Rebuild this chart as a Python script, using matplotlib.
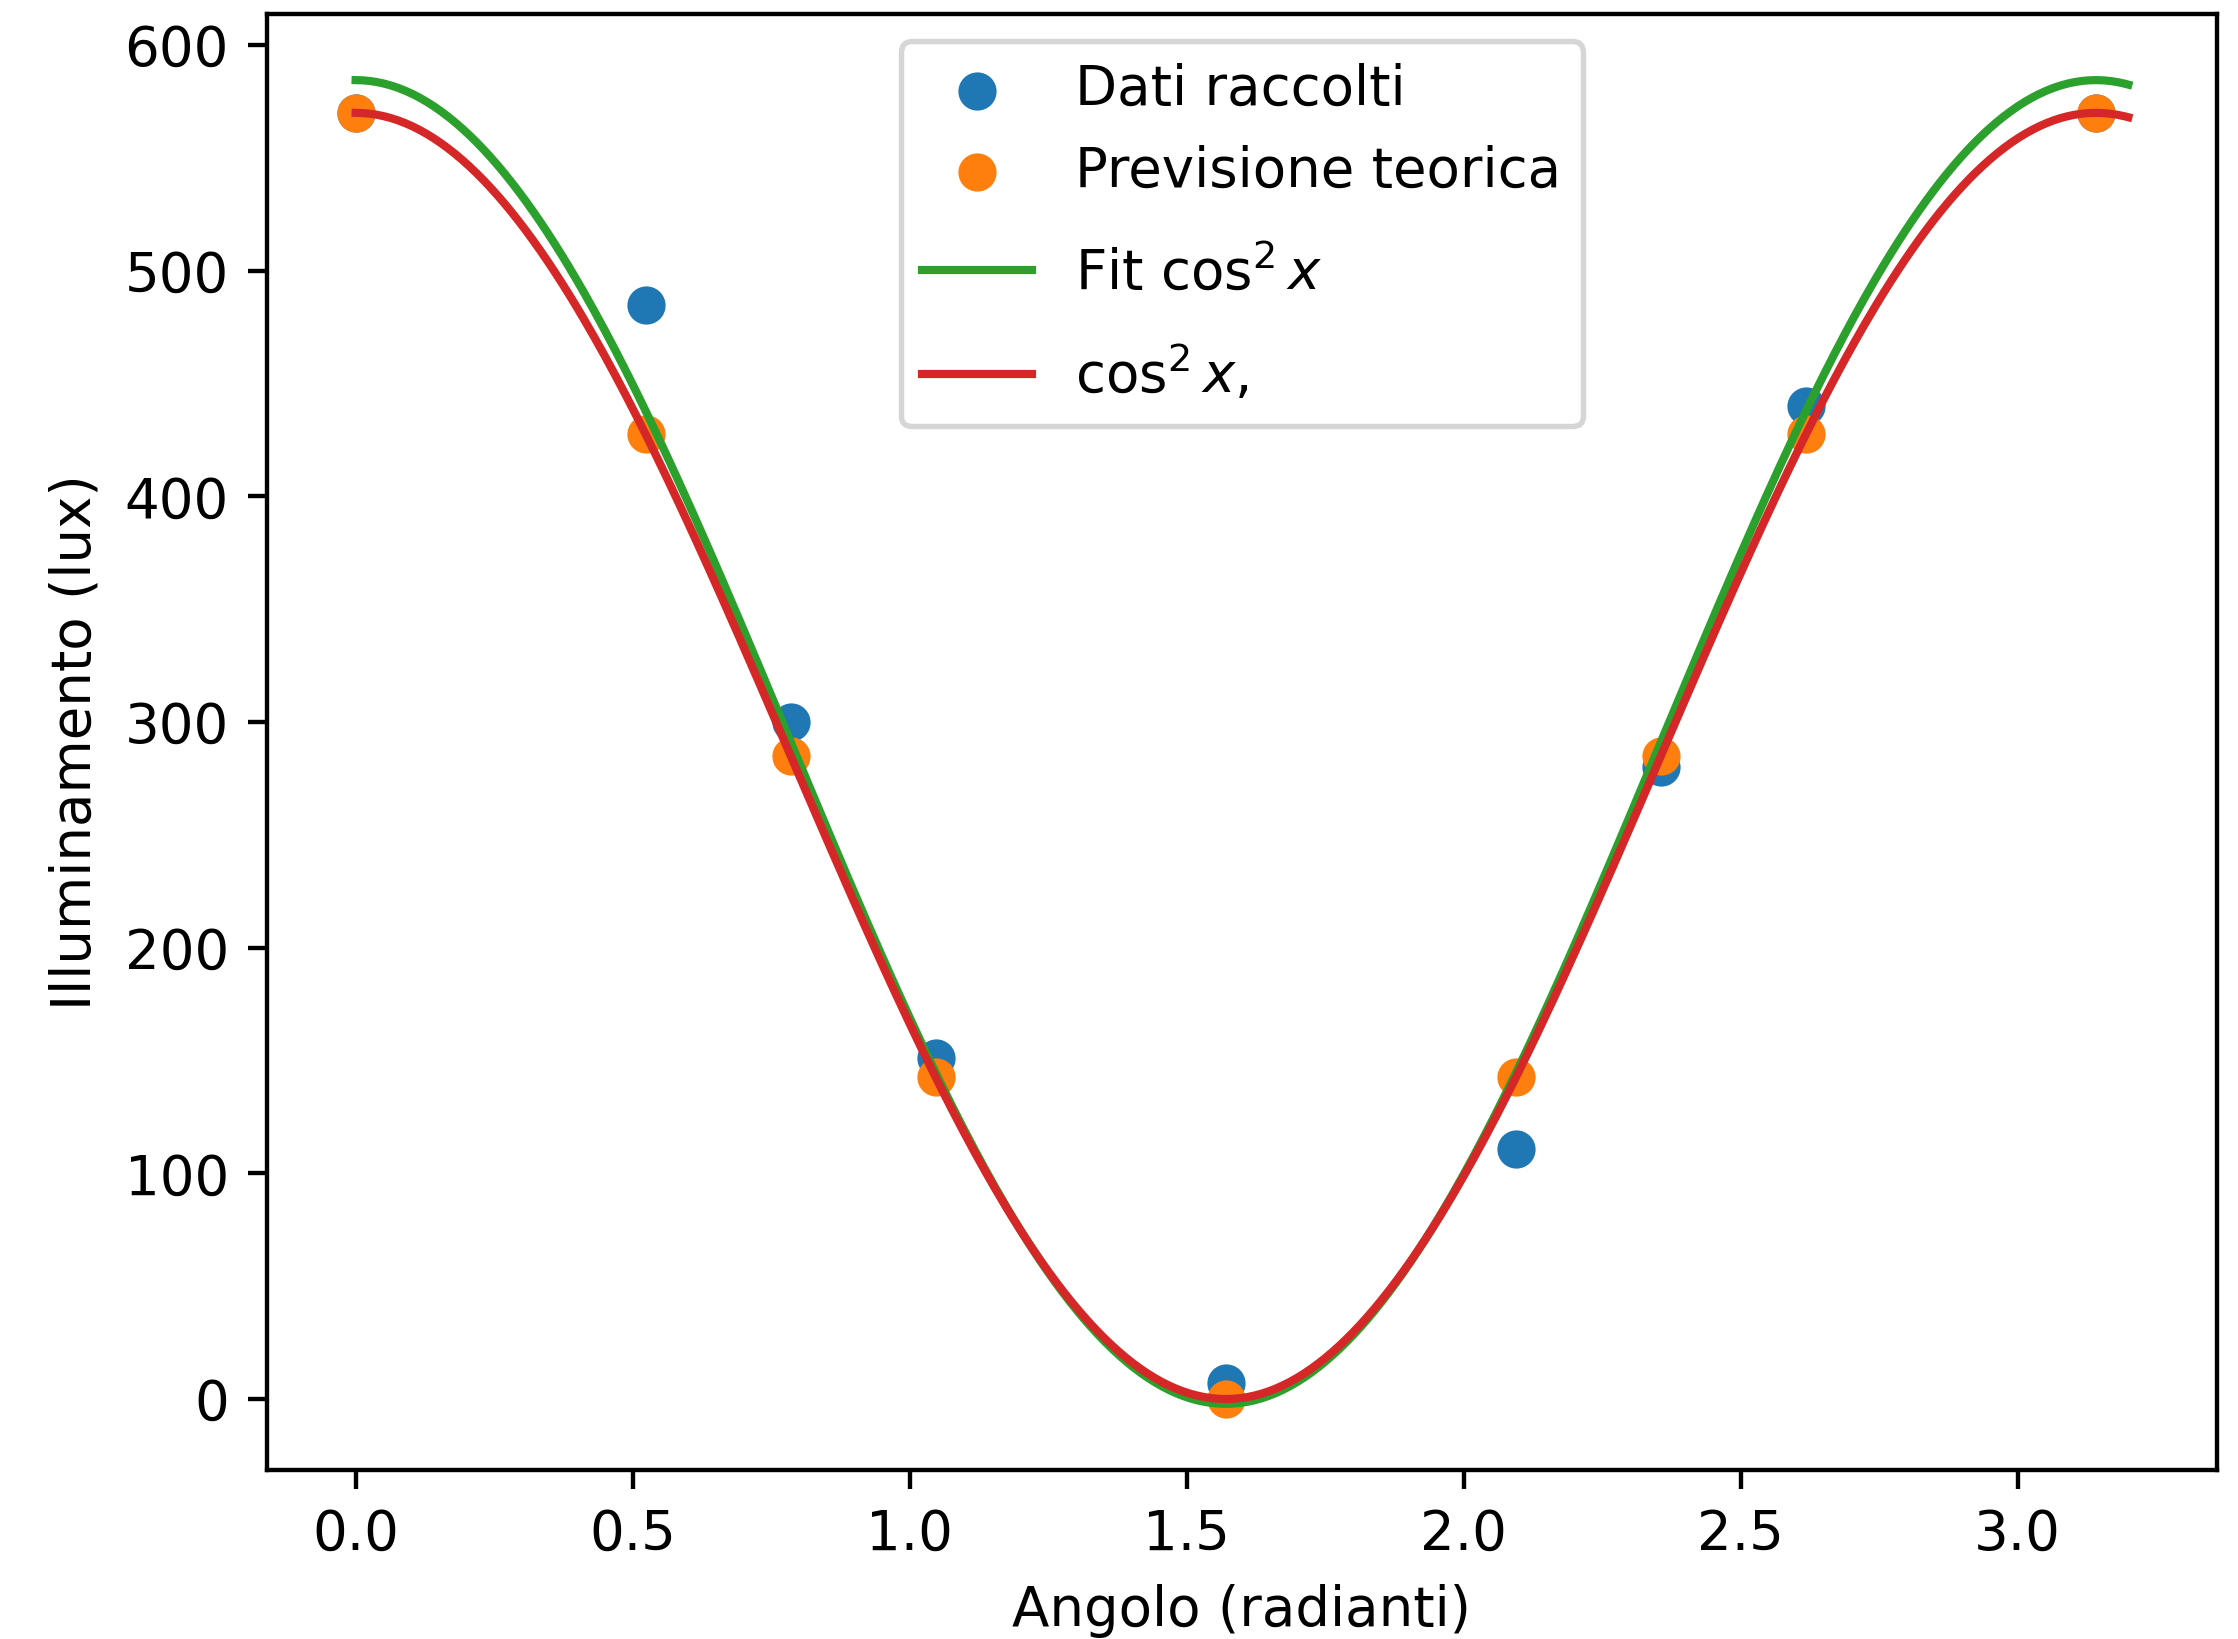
import numpy as np
from matplotlib import pyplot as plt

# angoli in radianti
angoli = np.array([0, np.pi / 6, np.pi / 4, np.pi / 3, np.pi / 2,
                   2 * np.pi / 3, 3 * np.pi / 4, 5 * np.pi / 6, np.pi])
dati_raccolti = np.array([570, 485, 300, 151, 7, 111, 280, 440, 570])
previsione_teorica = np.array([570, 427.5, 285, 142.5, 0, 142.5, 285, 427.5, 570])
I0 = 570

# fit a*cos^2(x) + b sui dati raccolti
A = np.vstack([np.cos(angoli) ** 2, np.ones_like(angoli)]).T
(a_fit, b_fit), *_ = np.linalg.lstsq(A, dati_raccolti, rcond=None)

x = np.linspace(0, 3.2, 500)

dpi = 393
fig = plt.figure(figsize=(2238 / dpi, 1639 / dpi), dpi=dpi)
ax = fig.add_axes([0.1193, 0.1031, 0.9906 - 0.1193, 0.9915 - 0.1031])

ax.scatter(angoli, dati_raccolti, label="Dati raccolti")
ax.scatter(angoli, previsione_teorica, label="Previsione teorica")
ax.plot(x, a_fit * np.cos(x) ** 2 + b_fit, color="C2", label=r"Fit $\cos^2 x$")
ax.plot(x, I0 * np.cos(x) ** 2, color="C3", label=r"$\cos^2 x$,")

ax.set_xlabel("Angolo (radianti)")
ax.set_ylabel("Illuminamento (lux)")
leg = ax.legend(loc="upper center")

# the math entries sit a bit taller in the original legend
for col in leg._legend_handle_box.get_children():
    for i, item in enumerate(col.get_children()):
        if i >= 2:
            hb = item.get_children()[0]
            hb.height += 6.5
            hb.ydescent += 1.8

fig.savefig("out.png", dpi=dpi)
